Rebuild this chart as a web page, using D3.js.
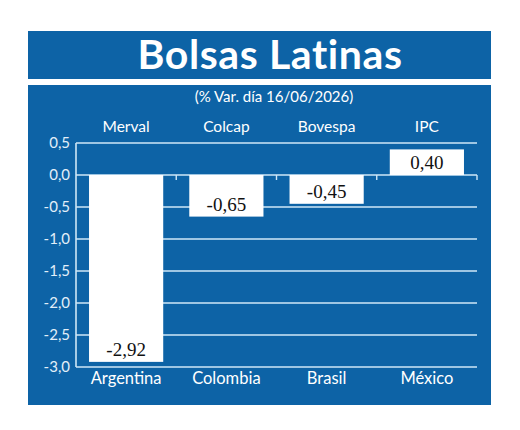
<!DOCTYPE html>
<html><head><meta charset="utf-8">
<script src="https://cdn.jsdelivr.net/npm/d3@7"></script>
<style>html,body{margin:0;padding:0;background:#fff;}</style>
</head><body>
<svg id="c" width="520" height="430"></svg>
<script>
const indices = ["Merval", "Colcap", "Bovespa", "IPC"];
const countries = ["Argentina", "Colombia", "Brasil", "México"];
const values = [-2.92, -0.65, -0.45, 0.40];
const valueLabels = ["-2,92", "-0,65", "-0,45", "0,40"];
const yTicks = [0.5, 0.0, -0.5, -1.0, -1.5, -2.0, -2.5, -3.0];
const title = "Bolsas Latinas";
const subtitle = "(% Var. día 16/06/2026)";

const BLUE = "#0d63a6", GRID = "#cfe7f7";
const svg = d3.select("#c");
const sans = "Lato, 'Open Sans', sans-serif";

// panels
svg.append("rect").attr("x", 28).attr("y", 31).attr("width", 463).attr("height", 48).attr("fill", BLUE);
svg.append("rect").attr("x", 28).attr("y", 85).attr("width", 463).attr("height", 320).attr("fill", BLUE);

svg.append("text").attr("x", 270).attr("y", 69).attr("text-anchor", "middle")
  .attr("fill", "#fff").attr("font-family", sans).attr("font-weight", 700).attr("font-size", 41)
  .attr("letter-spacing", 0.6)
  .text(title);
svg.append("text").attr("x", 274).attr("y", 102).attr("text-anchor", "middle")
  .attr("fill", "#fff").attr("font-family", sans).attr("font-size", 15)
  .text(subtitle);

const x = d3.scaleBand().domain(indices).range([76, 477]).paddingInner(0.26).paddingOuter(0.13);
const y = d3.scaleLinear().domain([-3, 0.5]).range([367, 143]);

const g = svg.append("g");
// gridlines
g.selectAll("line.grid").data(yTicks).join("line")
  .attr("x1", 76).attr("x2", 477).attr("y1", d => y(d)).attr("y2", d => y(d))
  .attr("stroke", GRID).attr("stroke-width", 1.6);
// axis line
g.append("line").attr("x1", 76).attr("x2", 76).attr("y1", y(0.5)).attr("y2", y(-3))
  .attr("stroke", GRID).attr("stroke-width", 1.6);
// small ticks at band boundaries on zero line
const step = x.step();
g.selectAll("line.tk").data(indices).join("line")
  .attr("x1", (d, i) => 76 + step * (i + 1)).attr("x2", (d, i) => 76 + step * (i + 1))
  .attr("y1", y(0)).attr("y2", y(0) + 5)
  .attr("stroke", GRID).attr("stroke-width", 1.4);

// y tick labels
g.selectAll("text.yt").data(yTicks).join("text")
  .attr("x", 70).attr("y", d => y(d)).attr("dy", "0.36em").attr("text-anchor", "end")
  .attr("fill", "#e2eff9").attr("font-family", sans).attr("font-size", 15)
  .text(d => d3.format(".1f")(d).replace(".", ",").replace("−", "-"));

// bars
g.selectAll("rect.bar").data(values).join("rect")
  .attr("x", (d, i) => x(indices[i])).attr("width", x.bandwidth())
  .attr("y", d => y(Math.max(0, d))).attr("height", d => Math.abs(y(d) - y(0)))
  .attr("fill", "#fff");

// value labels
g.selectAll("text.val").data(values).join("text")
  .attr("x", (d, i) => x(indices[i]) + x.bandwidth() / 2)
  .attr("y", d => Math.max(y(d), y(0)) - 6)
  .attr("text-anchor", "middle").attr("fill", "#111")
  .attr("font-family", "'Liberation Serif', 'Times New Roman', serif").attr("font-size", 19)
  .text((d, i) => valueLabels[i]);

// top index labels
g.selectAll("text.idx").data(indices).join("text")
  .attr("x", d => x(d) + x.bandwidth() / 2).attr("y", 132)
  .attr("text-anchor", "middle").attr("fill", "#fff").attr("font-family", sans).attr("font-size", 15.5)
  .text(d => d);

// bottom country labels
g.selectAll("text.ctry").data(countries).join("text")
  .attr("x", (d, i) => x(indices[i]) + x.bandwidth() / 2).attr("y", 384)
  .attr("text-anchor", "middle").attr("fill", "#fff").attr("font-family", sans).attr("font-size", 16.5)
  .text(d => d);
</script>
</body></html>
